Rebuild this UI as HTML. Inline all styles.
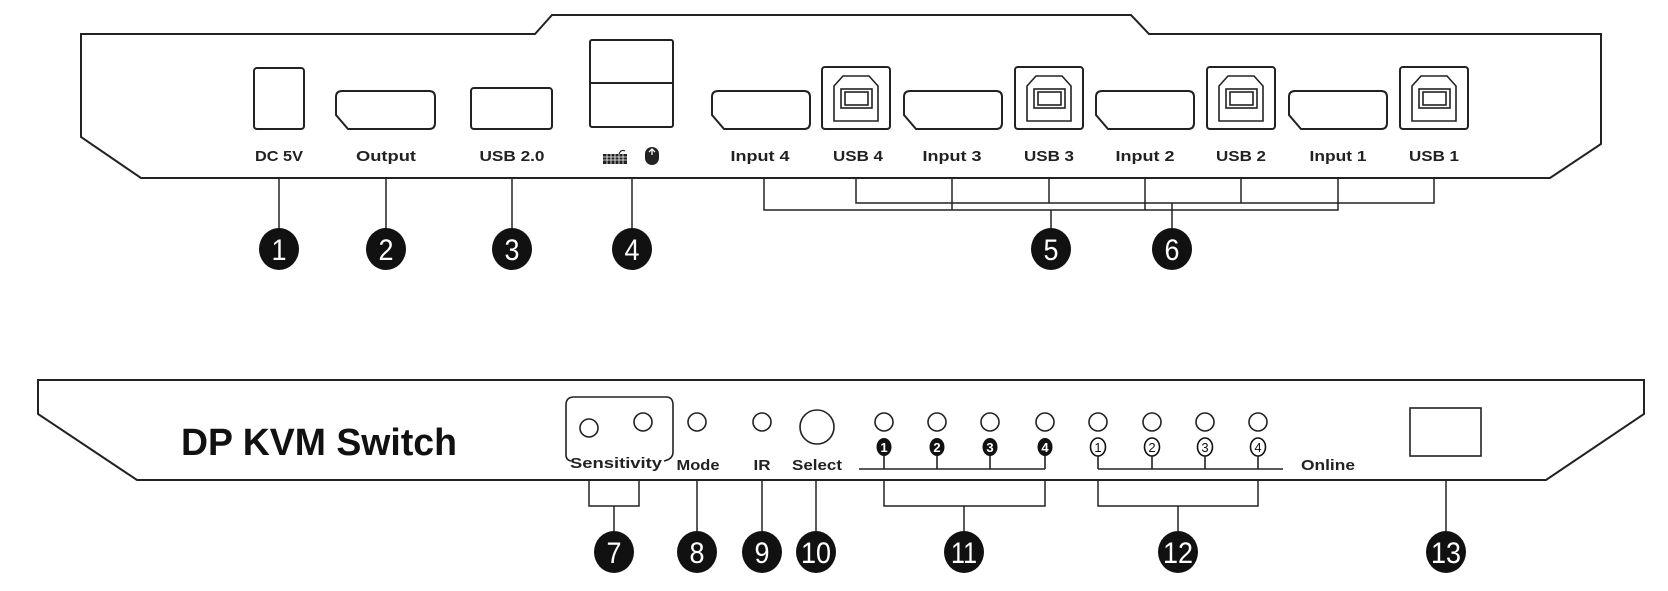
<!DOCTYPE html>
<html><head><meta charset="utf-8"><style>
html,body{margin:0;padding:0;background:#fff;}
svg{display:block;}
text{font-family:"Liberation Sans",Arial,sans-serif;}
</style></head><body>
<svg width="1668" height="591" viewBox="0 0 1668 591" xmlns="http://www.w3.org/2000/svg">
<g fill="none" stroke="#222" stroke-width="2">
<!-- top panel outline -->
<polygon points="81,34 535,34 552,15 1131,15 1149,34 1601,34 1601,144 1550,178 141,178 81,137"/>
<!-- DC -->
<rect x="254" y="68" width="50" height="61" rx="3"/>
<!-- DP ports -->
<path d="M342,91 H429 Q435,91 435,97 V123 Q435,129 429,129 H348 L336,115 V97 Q336,91 342,91 Z"/>
<path d="M718,91 H804 Q810,91 810,97 V123 Q810,129 804,129 H724 L712,115 V97 Q712,91 718,91 Z"/>
<path d="M910,91 H996 Q1002,91 1002,97 V123 Q1002,129 996,129 H916 L904,115 V97 Q904,91 910,91 Z"/>
<path d="M1102,91 H1188 Q1194,91 1194,97 V123 Q1194,129 1188,129 H1108 L1096,115 V97 Q1096,91 1102,91 Z"/>
<path d="M1295,91 H1381 Q1387,91 1387,97 V123 Q1387,129 1381,129 H1301 L1289,115 V97 Q1289,91 1295,91 Z"/>
<!-- USB 2.0 -->
<rect x="471" y="88" width="81" height="41" rx="3"/>
<!-- KB/mouse stack -->
<rect x="590" y="40" width="83" height="87" rx="2"/>
<line x1="590" y1="83" x2="673" y2="83"/>
</g>
<!-- USB B ports -->
<g fill="none" stroke="#222" stroke-width="2">
<g id="ub">
<rect x="822" y="67" width="68" height="62" rx="3"/>
<path d="M843,76 H869 L878,86 V121 H834 V86 Z" stroke-width="1.6"/>
<rect x="841" y="89" width="31" height="19" stroke-width="1.6"/>
<rect x="845" y="92" width="23" height="13" stroke-width="1.6"/>
</g>
<use href="#ub" x="193"/>
<use href="#ub" x="385"/>
<use href="#ub" x="578"/>
</g>
<!-- top labels -->
<g font-weight="bold" font-size="15" fill="#222" text-anchor="middle">
<text x="279" y="161" textLength="48" lengthAdjust="spacingAndGlyphs">DC 5V</text>
<text x="386" y="161" textLength="60" lengthAdjust="spacingAndGlyphs">Output</text>
<text x="512" y="161" textLength="65" lengthAdjust="spacingAndGlyphs">USB 2.0</text>
<text x="760" y="161" textLength="59" lengthAdjust="spacingAndGlyphs">Input 4</text>
<text x="858" y="161" textLength="50" lengthAdjust="spacingAndGlyphs">USB 4</text>
<text x="952" y="161" textLength="59" lengthAdjust="spacingAndGlyphs">Input 3</text>
<text x="1049" y="161" textLength="50" lengthAdjust="spacingAndGlyphs">USB 3</text>
<text x="1145" y="161" textLength="59" lengthAdjust="spacingAndGlyphs">Input 2</text>
<text x="1241" y="161" textLength="50" lengthAdjust="spacingAndGlyphs">USB 2</text>
<text x="1338" y="161" textLength="57" lengthAdjust="spacingAndGlyphs">Input 1</text>
<text x="1434" y="161" textLength="50" lengthAdjust="spacingAndGlyphs">USB 1</text>
</g>
<!-- keyboard icon -->
<g fill="#222">
<rect x="603" y="154" width="24" height="10"/>
<path d="M619,154 q2,-5 6,-3" stroke="#222" stroke-width="1.2" fill="none"/>
<g stroke="#fff" stroke-width="0.8">
<line x1="603" y1="157" x2="627" y2="157"/><line x1="603" y1="160" x2="627" y2="160"/>
<line x1="607" y1="154" x2="607" y2="164"/><line x1="611" y1="154" x2="611" y2="164"/><line x1="615" y1="154" x2="615" y2="164"/><line x1="619" y1="154" x2="619" y2="164"/><line x1="623" y1="154" x2="623" y2="164"/>
</g>
<!-- mouse -->
<rect x="645" y="147" width="14" height="18" rx="7"/>
<path d="M649,152 L652,149 L655,152" stroke="#fff" stroke-width="1.3" fill="none"/>
<line x1="652" y1="149" x2="652" y2="155" stroke="#fff" stroke-width="1.3"/>
</g>
<!-- top connectors -->
<g fill="none" stroke="#222" stroke-width="1.5">
<line x1="279" y1="178" x2="279" y2="229"/>
<line x1="386" y1="178" x2="386" y2="229"/>
<line x1="512" y1="178" x2="512" y2="229"/>
<line x1="632" y1="178" x2="632" y2="229"/>
<polyline points="764,178 764,210 1338,210 1338,178"/>
<line x1="952" y1="178" x2="952" y2="210"/>
<line x1="1145" y1="178" x2="1145" y2="210"/>
<line x1="1051" y1="210" x2="1051" y2="229"/>
<polyline points="856,178 856,203 1434,203 1434,178"/>
<line x1="1049" y1="178" x2="1049" y2="203"/>
<line x1="1241" y1="178" x2="1241" y2="203"/>
<line x1="1172" y1="203" x2="1172" y2="229"/>
</g>
<!-- number circles top -->
<g fill="#111">
<ellipse cx="279" cy="249" rx="20" ry="21"/>
<ellipse cx="386" cy="249" rx="20" ry="21"/>
<ellipse cx="512" cy="249" rx="20" ry="21"/>
<ellipse cx="632" cy="249" rx="20" ry="21"/>
<ellipse cx="1051" cy="249" rx="20" ry="21"/>
<ellipse cx="1172" cy="249" rx="20" ry="21"/>
</g>
<g fill="#fff" font-size="30" text-anchor="middle">
<text x="279" y="260" textLength="15" lengthAdjust="spacingAndGlyphs">1</text>
<text x="386" y="260" textLength="15" lengthAdjust="spacingAndGlyphs">2</text>
<text x="512" y="260" textLength="15" lengthAdjust="spacingAndGlyphs">3</text>
<text x="632" y="260" textLength="15" lengthAdjust="spacingAndGlyphs">4</text>
<text x="1051" y="260" textLength="15" lengthAdjust="spacingAndGlyphs">5</text>
<text x="1172" y="260" textLength="15" lengthAdjust="spacingAndGlyphs">6</text>
</g>

<!-- bottom panel -->
<g fill="none" stroke="#222" stroke-width="2">
<polygon points="38,380 1644,380 1644,414 1546,480 137,480 38,414"/>
</g>
<text x="181" y="455" font-size="38" font-weight="bold" fill="#111" textLength="276" lengthAdjust="spacingAndGlyphs">DP KVM Switch</text>
<g fill="none" stroke="#222" stroke-width="1.6">
<path d="M566,455 V405 Q566,397 574,397 H666 Q673,397 673,405 V452 Q673,459 664,461"/>
<path d="M566,455 Q566,460 571,461"/>
<ellipse cx="589" cy="428" rx="9" ry="9"/>
<ellipse cx="643" cy="422" rx="9" ry="9"/>
<ellipse cx="697" cy="422" rx="9" ry="9"/>
<ellipse cx="762" cy="422" rx="9" ry="9"/>
<circle cx="817" cy="427" r="17"/>
<ellipse cx="884" cy="422" rx="9" ry="9"/>
<ellipse cx="937" cy="422" rx="9" ry="9"/>
<ellipse cx="990" cy="422" rx="9" ry="9"/>
<ellipse cx="1045" cy="422" rx="9" ry="9"/>
<ellipse cx="1098" cy="422" rx="9" ry="9"/>
<ellipse cx="1152" cy="422" rx="9" ry="9"/>
<ellipse cx="1205" cy="422" rx="9" ry="9"/>
<ellipse cx="1258" cy="422" rx="9" ry="9"/>
<rect x="1410" y="408" width="71" height="48"/>
</g>
<g font-weight="bold" font-size="15" fill="#222" text-anchor="middle">
<text x="616" y="468" textLength="92" lengthAdjust="spacingAndGlyphs">Sensitivity</text>
<text x="698" y="470" textLength="43" lengthAdjust="spacingAndGlyphs">Mode</text>
<text x="762" y="470" textLength="17" lengthAdjust="spacingAndGlyphs">IR</text>
<text x="817" y="470" textLength="50" lengthAdjust="spacingAndGlyphs">Select</text>
<text x="1328" y="470" textLength="54" lengthAdjust="spacingAndGlyphs">Online</text>
</g>
<!-- small numbered LEDs -->
<g fill="#111">
<ellipse cx="884" cy="447" rx="7.5" ry="9"/>
<ellipse cx="937" cy="447" rx="7.5" ry="9"/>
<ellipse cx="990" cy="447" rx="7.5" ry="9"/>
<ellipse cx="1045" cy="447" rx="7.5" ry="9"/>
</g>
<g fill="#fff" stroke="#111" stroke-width="1.6">
<ellipse cx="1098" cy="447" rx="7.5" ry="9"/>
<ellipse cx="1152" cy="447" rx="7.5" ry="9"/>
<ellipse cx="1205" cy="447" rx="7.5" ry="9"/>
<ellipse cx="1258" cy="447" rx="7.5" ry="9"/>
</g>
<g font-size="13" font-weight="bold" text-anchor="middle">
<text x="884" y="452" fill="#fff">1</text>
<text x="937" y="452" fill="#fff">2</text>
<text x="990" y="452" fill="#fff">3</text>
<text x="1045" y="452" fill="#fff">4</text>
<text x="1098" y="452" fill="#111" font-weight="normal">1</text>
<text x="1152" y="452" fill="#111" font-weight="normal">2</text>
<text x="1205" y="452" fill="#111" font-weight="normal">3</text>
<text x="1258" y="452" fill="#111" font-weight="normal">4</text>
</g>
<g fill="none" stroke="#222" stroke-width="1.6">
<line x1="859" y1="469" x2="1045" y2="469"/>
<line x1="884" y1="456" x2="884" y2="469"/><line x1="937" y1="456" x2="937" y2="469"/><line x1="990" y1="456" x2="990" y2="469"/><line x1="1045" y1="456" x2="1045" y2="469"/>
<line x1="1098" y1="469" x2="1283" y2="469"/>
<line x1="1098" y1="456" x2="1098" y2="469"/><line x1="1152" y1="456" x2="1152" y2="469"/><line x1="1205" y1="456" x2="1205" y2="469"/><line x1="1258" y1="456" x2="1258" y2="469"/>
</g>
<!-- bottom connectors -->
<g fill="none" stroke="#222" stroke-width="1.5">
<polyline points="589,480 589,506 639,506 639,480"/>
<line x1="614" y1="506" x2="614" y2="532"/>
<line x1="697" y1="480" x2="697" y2="532"/>
<line x1="762" y1="480" x2="762" y2="532"/>
<line x1="816" y1="480" x2="816" y2="532"/>
<polyline points="884,480 884,506 1045,506 1045,480"/>
<line x1="964" y1="506" x2="964" y2="532"/>
<polyline points="1098,480 1098,506 1258,506 1258,480"/>
<line x1="1178" y1="506" x2="1178" y2="532"/>
<line x1="1446" y1="480" x2="1446" y2="532"/>
</g>
<g fill="#111">
<ellipse cx="614" cy="552" rx="20" ry="21"/>
<ellipse cx="697" cy="552" rx="20" ry="21"/>
<ellipse cx="762" cy="552" rx="20" ry="21"/>
<ellipse cx="816" cy="552" rx="20" ry="21"/>
<ellipse cx="964" cy="552" rx="20" ry="21"/>
<ellipse cx="1178" cy="552" rx="20" ry="21"/>
<ellipse cx="1446" cy="552" rx="20" ry="21"/>
</g>
<g fill="#fff" font-size="30" text-anchor="middle">
<text x="614" y="563" textLength="15" lengthAdjust="spacingAndGlyphs">7</text>
<text x="697" y="563" textLength="15" lengthAdjust="spacingAndGlyphs">8</text>
<text x="762" y="563" textLength="15" lengthAdjust="spacingAndGlyphs">9</text>
<text x="816" y="563" textLength="30" lengthAdjust="spacingAndGlyphs">10</text>
<text x="964" y="563" textLength="26" lengthAdjust="spacingAndGlyphs">11</text>
<text x="1178" y="563" textLength="30" lengthAdjust="spacingAndGlyphs">12</text>
<text x="1446" y="563" textLength="30" lengthAdjust="spacingAndGlyphs">13</text>
</g>
</svg>
</body></html>
